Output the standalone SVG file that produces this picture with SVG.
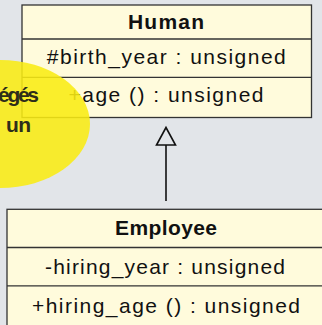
<svg xmlns="http://www.w3.org/2000/svg" width="322" height="325" viewBox="0 0 322 325">
<style>
.box{fill:#fffbdc;stroke:#333;stroke-width:1.3}
.div{stroke:#333;stroke-width:1.3}
.t{font-family:"Liberation Sans",Arial,sans-serif;font-size:21px;fill:#111;text-anchor:middle}
.b{font-weight:bold}
.note{font-family:"Liberation Sans",Arial,sans-serif;font-size:21px;font-weight:bold;fill:#2e2d1a}
</style>
<rect width="322" height="325" fill="#e2e5e9"/>
<g id="connectors">
<line x1="166" y1="145" x2="166" y2="201" stroke="#111" stroke-width="1.6"/>
<polygon points="166,127.5 156.5,145 175.5,145" fill="none" stroke="#111" stroke-width="1.6"/>
</g>
<g id="human">
<rect class="box" x="22" y="5" width="289.5" height="112.5"/>
<line class="div" x1="22" y1="39" x2="311.5" y2="39"/>
<line class="div" x1="22" y1="77.3" x2="311.5" y2="77.3"/>
<text class="t b" x="166" y="29.3" textLength="76">Human</text>
<text class="t" x="166.3" y="63.5" textLength="239">#birth_year : unsigned</text>
<text class="t" x="166" y="101.5" textLength="195">+age () : unsigned</text>
</g>
<g id="employee">
<rect class="box" x="7" y="209.3" width="330" height="130"/>
<line class="div" x1="7" y1="247.5" x2="337" y2="247.5"/>
<line class="div" x1="7" y1="285.8" x2="337" y2="285.8"/>
<text class="t b" x="166" y="235" textLength="102">Employee</text>
<text class="t" x="165" y="273.5" textLength="240">-hiring_year : unsigned</text>
<text class="t" x="166" y="312.7" textLength="268">+hiring_age () : unsigned</text>
</g>
<g id="note">
<ellipse cx="0" cy="124" rx="90" ry="64" fill="#f9ec12" fill-opacity="0.88"/>
<text class="note" x="39" y="102" text-anchor="end" textLength="41">égés</text>
<text class="note" x="6" y="132" textLength="25">un</text>
</g>
</svg>
